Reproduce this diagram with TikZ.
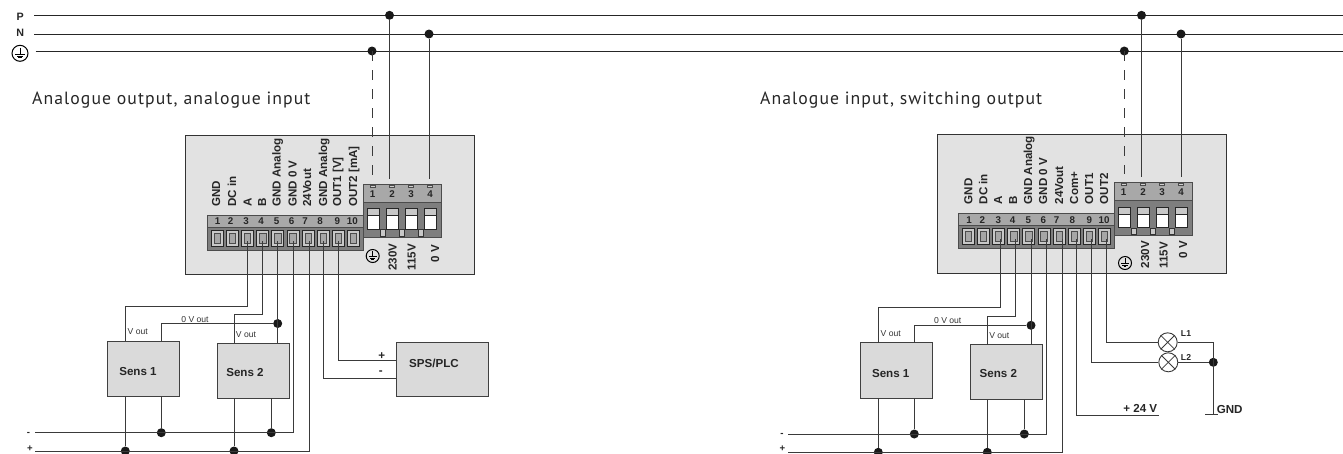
\documentclass[tikz,border=0pt]{standalone}
\usepackage{fontspec}
\setmainfont{Liberation Sans}
\newfontfamily\titlefont[LetterSpace=6]{PT Sans}
\definecolor{wirec}{HTML}{3A3A3A}
\definecolor{panelc}{HTML}{E2E2E2}
\definecolor{boxc}{HTML}{DADADA}
\definecolor{hdrc}{HTML}{A8A8A8}
\definecolor{bodyc}{HTML}{7E7E7E}
\definecolor{cellc}{HTML}{C8C8C8}
\definecolor{tabc}{HTML}{D0D0D0}
\tikzset{
  wire/.style={draw=wirec,line width=0.95pt},
  rail/.style={draw=black!85,line width=0.95pt},
  dashwire/.style={draw=wirec,line width=0.8pt,dash pattern=on 10pt off 9pt},
  dot/.style={circle,fill=black!90,inner sep=0pt,minimum size=9pt},
  panelbox/.style={draw=black!80,fill=panelc,line width=0.9pt},
  sensbox/.style={draw=black!75,fill=boxc,line width=0.95pt,inner sep=0pt},
  bold/.style={font=\fontsize{11.6}{12}\selectfont\bfseries,inner sep=0pt,text=black!85},
  rlab/.style={font=\fontsize{10.7}{11}\selectfont\bfseries,inner sep=0pt,text=black!85},
  pol/.style={font=\fontsize{9.6}{10}\selectfont\bfseries,inner sep=0pt,text=black!85},
  num/.style={font=\fontsize{9.8}{10}\selectfont\bfseries,inner sep=0pt,text=black!85},
  vlab/.style={font=\fontsize{11.6}{12}\selectfont\bfseries,inner sep=0pt,rotate=90,anchor=base west,text=black!85},
  small/.style={font=\fontsize{8.6}{9}\selectfont,inner sep=0pt,text=black!80},
  smallb/.style={font=\fontsize{8.6}{9}\selectfont\bfseries,inner sep=0pt,text=black!85},
  titletext/.style={font=\fontsize{17.7}{20}\titlefont,inner sep=0pt,anchor=base west,text=black!85},
  lamp/.style={circle,draw=wirec,fill=white,line width=0.9pt,inner sep=0pt,minimum size=19pt},
}
% earth symbol
\newcommand{\earthsym}[3]{%
  \node[circle,draw=black,line width=1pt,minimum size=#3pt,inner sep=0pt] (#1) at #2 {};
  \draw[black,line width=0.9pt] ([yshift=0.36*#3 pt]#1.center) -- ([yshift=-0.05*#3 pt]#1.center)
    ([xshift=-0.3*#3 pt,yshift=-0.05*#3 pt]#1.center) -- ([xshift=0.3*#3 pt,yshift=-0.05*#3 pt]#1.center)
    ([xshift=-0.2*#3 pt,yshift=-0.17*#3 pt]#1.center) -- ([xshift=0.2*#3 pt,yshift=-0.17*#3 pt]#1.center)
    ([xshift=-0.1*#3 pt,yshift=-0.29*#3 pt]#1.center) -- ([xshift=0.1*#3 pt,yshift=-0.29*#3 pt]#1.center);
}
% terminal strip and relay terminal, at the left panel's position
\newcommand{\terminals}{%
  \fill[hdrc] (207,215) rectangle (363,227.5);
  \fill[bodyc] (207,227.5) rectangle (363,250.5);
  \draw[black!70,line width=0.7pt] (207,215) rectangle (363,250.5);
  \draw[black!70,line width=0.7pt] (207,227.5) -- (363,227.5);
  \foreach \i in {1,...,10}{
    \pgfmathsetmacro{\cx}{217.4+15.13*(\i-1)}
    \draw[draw=black!85,fill=cellc,line width=0.9pt] (\cx-6,230) rectangle (\cx+6,246);
    \draw[draw=black!70,fill=black!35,line width=0.8pt] (\cx-3.2,233.5) rectangle (\cx+3.2,243);
  }
  \fill[hdrc] (363,184.5) rectangle (441,202);
  \fill[bodyc] (363,202) rectangle (441,237);
  \draw[black!70,line width=0.7pt] (363,184.5) rectangle (441,237);
  \draw[black!70,line width=0.7pt] (363,202) -- (441,202);
  \foreach \t/\x in {373/373.3,392/392.7,410.8/411.3,430/430.5}{
    \draw[draw=black!70,fill=tabc,line width=0.5pt] (\t-2.4,184.8) rectangle (\t+2.4,187.2);
    \fill[cellc] (\x-6.1,208.7) rectangle (\x+6.1,215.7);
    \fill[white] (\x-6.1,215.7) rectangle (\x+6.1,229);
    \draw[black!85,line width=0.9pt] (\x-6.1,208.7) rectangle (\x+6.1,229);
    \draw[black!85,line width=0.9pt] (\x-6.1,215.7) -- (\x+6.1,215.7);
  }
  \foreach \x in {382.7,401.8,420.8}{
    \draw[draw=black!80,fill=cellc,line width=0.6pt] (\x-2.5,229.7) rectangle (\x+2.5,236.2);
  }
  \foreach \i/\x in {1/372.7,2/392,3/411,4/430}{
    \node[num] (rn\i) at (\x,194.2) {\i};
  }
}
\begin{document}
\begin{tikzpicture}[x=1pt,y=-1pt]
\useasboundingbox (0,0) rectangle (1343,453);

% ---------- supply rails
\coordinate (Pa) at (34,15.3); \coordinate (Pb) at (1343,15.3);
\coordinate (Na) at (34,34); \coordinate (Nb) at (1343,34);
\coordinate (Ea) at (35.5,51); \coordinate (Eb) at (1343,51);
\draw[rail] (Pa) -- (Pb);
\draw[rail] (Na) -- (Nb);
\draw[rail] (Ea) -- (Eb);
\node[rlab] (Plab) at (20.3,17.3) {P};
\node[rlab] (Nlab) at (20.3,33.3) {N};
\earthsym{Elab}{(20,53.3)}{16}

% ---------- titles
\node[titletext] (T1) at (32,104.5) {Analogue output, analogue input};
\node[titletext] (T2) at (760,104.5) {Analogue input, switching output};

% ---------- left device
\draw[panelbox] (185,135) rectangle (474,274.5);
\begin{scope}[name prefix=L]
\terminals
\end{scope}
\foreach \n/\x/\t in {a/220/GND,b/236/DC in,c/251.5/A,d/266/B,e/280.5/GND Analog,f/296.5/GND 0 V,g/311/24Vout,h/327/GND Analog,i/341/OUT1 [V],j/357/OUT2 [mA]}{
  \node[vlab] (Lv\n) at (\x,207) {\t};
}
\foreach \n/\x/\t in {1/217.7/1,2/230.7/2,3/246/3,4/261/4,5/276.7/5,6/291.7/6,7/305/7,8/320/8,9/337.3/9,10/352.3/10}{
  \node[num] (Ln\n) at (\x,221.5) {\t};
}
\earthsym{Lear}{(372.7,256)}{13}
\node[vlab] (Lu1) at (396.7,270.7) {230V};
\node[vlab] (Lu2) at (415.7,270.7) {115V};
\node[vlab] (Lu3) at (439,262.7) {0 V};

% mains connections
\node[dot] (Ld1) at (372,51) {};
\node[dot] (Ld2) at (389.5,15.3) {};
\node[dot] (Ld3) at (429,34) {};
\coordinate (Lr1) at (372,175);
\coordinate (Lr2) at (389.5,179);
\coordinate (Lr4) at (429,179);
\draw[dashwire] (Ld1.center) -- (Lr1);
\draw[wire] (Ld2) -- (Lr2);
\draw[wire] (Ld3) -- (Lr4);

% sensors
\node[sensbox,minimum width=72pt,minimum height=55.7pt] (LS1) at (143.3,368.9) {};
\node[sensbox,minimum width=72pt,minimum height=55pt] (LS2) at (253,370.5) {};
\node[bold] (LS1t) at (138,371.7) {Sens 1};
\node[bold] (LS2t) at (245,372.7) {Sens 2};
\node[sensbox,minimum width=92pt,minimum height=54pt] (LPLC) at (442,369.3) {};
\node[bold] (LPLCt) at (434,363) {SPS/PLC};
\node[small] at (137.7,331.7) {V out};
\node[small] at (195,320) {0 V out};
\node[small] at (246,334.7) {V out};
\node[bold] at (381.7,355.7) {+};
\node[bold] at (380.7,372.7) {-};
\node[pol] at (28.5,433.5) {-};
\node[pol] at (30,448.5) {+};

\coordinate (Lw3) at (247.5,241); \coordinate (Lw4) at (262,241); \coordinate (Lw5) at (277.7,241);
\coordinate (Lw6) at (293.3,241); \coordinate (Lw7) at (309,241); \coordinate (Lw8) at (323.3,241); \coordinate (Lw9) at (338.3,241);
\coordinate (Lm) at (35,432.7); \coordinate (Lp) at (35,451);
\node[dot] (Lj5) at (277.7,323.5) {};
\node[dot] (Lm1) at (161.3,432.7) {};
\node[dot] (Lm2) at (271.3,432.7) {};
\node[dot] (Lp1) at (125.3,451) {};
\node[dot] (Lp2) at (234,451) {};
\draw[wire] (Lw3) -- (247.5,306) -- (125.3,306) -- (125.3,341);
\draw[wire] (Lw4) -- (262,314) -- (234,314) -- (234,343);
\draw[wire] (Lw5) -- (277.7,343);
\draw[wire] (Lj5) -- (161.7,323.5) -- (161.7,341);
\draw[wire] (Lw6) |- (Lm);
\draw[wire] (Lw7) |- (Lp);
\draw[wire] (125.3,396.7) -- (Lp1);
\draw[wire] (161.3,396.7) -- (Lm1);
\draw[wire] (234,398) -- (Lp2);
\draw[wire] (271.3,398) -- (Lm2);
\draw[wire] (Lw9) |- (396,360);
\draw[wire] (Lw8) |- (396,378);

% ---------- right device
\draw[panelbox] (937,134) rectangle (1226,273);
\begin{scope}[name prefix=R,shift={(751,-1.7)}]
\terminals
\end{scope}
\foreach \n/\x/\t in {a/972.3/GND,b/987.3/DC in,c/1002/A,d/1017/B,e/1032/GND Analog,f/1047/GND 0 V,g/1063/24Vout,h/1078/Com+,i/1093/OUT1,j/1108/OUT2}{
  \node[vlab] (Rv\n) at (\x,204.5) {\t};
}
\foreach \n/\x/\t in {1/969/1,2/982.3/2,3/998.3/3,4/1012.7/4,5/1028.3/5,6/1043.3/6,7/1056.7/7,8/1072.3/8,9/1089.3/9,10/1104/10}{
  \node[num] (Rn\n) at (\x,220) {\t};
}
\earthsym{Rear}{(1125,263)}{13}
\node[vlab] (Ru1) at (1149,268.5) {230V};
\node[vlab] (Ru2) at (1167.5,268.5) {115V};
\node[vlab] (Ru3) at (1187,258.5) {0 V};

\node[dot] (Rd1) at (1124.3,51) {};
\node[dot] (Rd2) at (1141.5,15.3) {};
\node[dot] (Rd3) at (1181,34) {};
\coordinate (Rr1) at (1124.3,174);
\coordinate (Rr2) at (1141.5,177);
\coordinate (Rr4) at (1181,177);
\draw[dashwire] (Rd1.center) -- (Rr1);
\draw[wire] (Rd2) -- (Rr2);
\draw[wire] (Rd3) -- (Rr4);

\node[sensbox,minimum width=72.4pt,minimum height=55.3pt] (RS1) at (896.5,370.6) {};
\node[sensbox,minimum width=72pt,minimum height=55pt] (RS2) at (1006,372.2) {};
\node[bold] (RS1t) at (890.7,373.7) {Sens 1};
\node[bold] (RS2t) at (998.3,373.7) {Sens 2};
\node[small] at (890.7,333.3) {V out};
\node[small] at (947.7,320.7) {0 V out};
\node[small] at (999.3,335.7) {V out};
\node[pol] at (782,435) {-};
\node[pol] at (782.5,448.5) {+};

\coordinate (Rw3) at (1000.3,239); \coordinate (Rw4) at (1015.3,239); \coordinate (Rw5) at (1031,239);
\coordinate (Rw6) at (1046.7,239); \coordinate (Rw7) at (1062.3,239); \coordinate (Rw8) at (1076.5,239);
\coordinate (Rw9) at (1091.8,239); \coordinate (Rw10) at (1106,239);
\coordinate (Rm) at (788.3,434); \coordinate (Rp) at (788.3,452.3);
\node[dot] (Rj5) at (1031,325.3) {};
\node[dot] (Rm1) at (914.3,434) {};
\node[dot] (Rm2) at (1024.3,434) {};
\node[dot] (Rp1) at (878.3,452.3) {};
\node[dot] (Rp2) at (987.3,452.3) {};
\draw[wire] (Rw3) -- (1000.3,307.7) -- (878.3,307.7) -- (878.3,343);
\draw[wire] (Rw4) -- (1015.3,316) -- (987.3,316) -- (987.3,344.7);
\draw[wire] (Rw5) -- (1031,344.7);
\draw[wire] (Rj5) -- (914.3,325.3) -- (914.3,343);
\draw[wire] (Rw6) |- (Rm);
\draw[wire] (Rw7) |- (Rp);
\draw[wire] (878.3,398.3) -- (Rp1);
\draw[wire] (914.3,398.3) -- (Rm1);
\draw[wire] (987.3,399.7) -- (Rp2);
\draw[wire] (1024.3,399.7) -- (Rm2);

% lamps
\node[lamp] (L1) at (1167.7,342.3) {};
\node[lamp] (L2) at (1168.3,362.3) {};
\foreach \l in {L1,L2}{
  \draw[wirec,line width=0.8pt] (\l.45) -- (\l.225) (\l.135) -- (\l.315);
}
\node[dot] (Rg) at (1213.3,362.3) {};
\coordinate (Rgnd) at (1213.3,414.7);
\coordinate (Rgl) at (1205.3,414.7);
\coordinate (Rgr) at (1218.3,414.7);
\coordinate (Rv24) at (1159.3,415);
\draw[wire] (Rw10) |- (L1.west);
\draw[wire] (Rw9) |- (L2.west);
\draw[wire] (L1.east) -| (Rgnd);
\draw[wire] (L2.east) -- (Rg);
\draw[wire] (Rgl) -- (Rgr);
\draw[wire] (Rw8) |- (Rv24);
\node[smallb] at (1186,333.3) {L1};
\node[smallb] at (1186,357.3) {L2};
\node[bold] at (1229.7,409.3) {GND};
\node[bold] at (1140.3,408.3) {+ 24 V};
\end{tikzpicture}
\end{document}
